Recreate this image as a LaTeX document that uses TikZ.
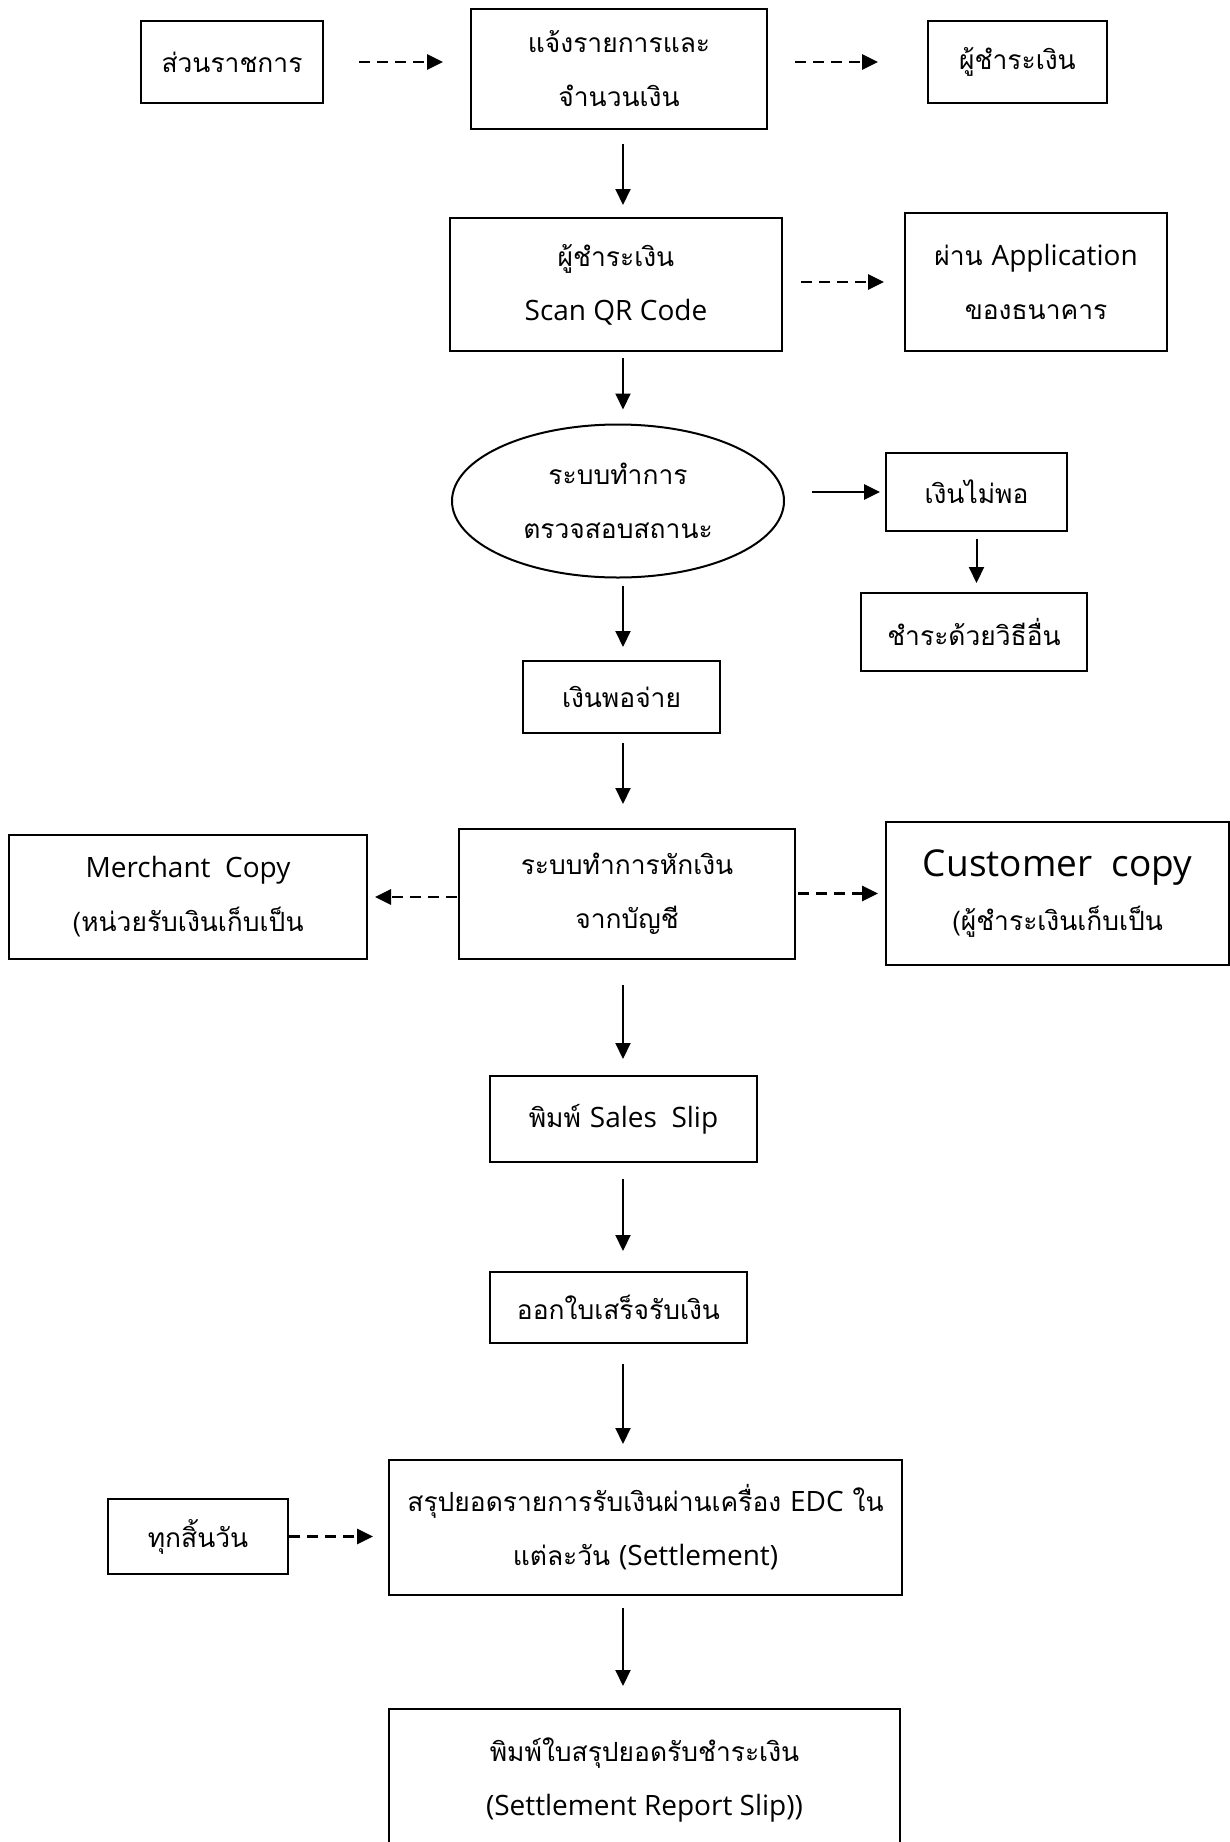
\documentclass[tikz,border=0pt]{standalone}
\usepackage{fontspec}
\setmainfont[Script=Thai]{Loma}
\newfontfamily\latinfont{Open Sans}
\newcommand{\en}[1]{{\latinfont\fontsize{14}{27}\selectfont #1}}
\usetikzlibrary{arrows.meta,shapes.geometric}

\begin{document}
\begin{tikzpicture}[x=0.5pt,y=-0.5pt,
		box/.style={draw,line width=1pt,align=center,inner sep=0pt,font=\fontsize{13.2}{27}\selectfont},
		flow/.style={line width=1pt,-{Triangle[length=8pt,width=7.5pt]}},
		link/.style={flow,line width=1.4pt,dash pattern=on 5.5pt off 3.5pt}]
		\useasboundingbox (0,0) rectangle (1230,1842);

		% Top row
		\node[box,minimum width=91pt,minimum height=41pt] (gov) at (232,62) {ส่วนราชการ};
		\node[box,minimum width=148pt,minimum height=60pt] (notify) at (619,69) {แจ้งรายการและ\\จำนวนเงิน};
		\node[box,minimum width=89.5pt,minimum height=41pt] (payer) at (1017.5,62) {ผู้ชำระเงิน};

		% Scan and check
		\node[box,minimum width=166pt,minimum height=66.5pt] (scan) at (616,284.5) {ผู้ชำระเงิน\\\en{Scan QR Code}};
		\node[box,minimum width=131pt,minimum height=69pt] (app) at (1036,282) {ผ่าน \en{Application}\\ของธนาคาร};
		\node[box,ellipse,minimum width=166pt,minimum height=76.5pt] (check) at (618,501) {ระบบทำการ\\ตรวจสอบสถานะ};
		\node[box,minimum width=90.5pt,minimum height=39pt] (short) at (976.5,492) {เงินไม่พอ};
		\node[box,minimum width=113pt,minimum height=39pt] (other) at (974,632) {ชำระด้วยวิธีอื่น};
		\node[box,minimum width=98.5pt,minimum height=36pt] (enough) at (621.5,697) {เงินพอจ่าย};

		% Deduct and copies
		\node[box,minimum width=168pt,minimum height=65pt] (deduct) at (627,894) {ระบบทำการหักเงิน\\จากบัญชี};
		\node[box,minimum width=179pt,minimum height=62pt] (merchant) at (188,897) {\en{Merchant\ \ Copy}\\(หน่วยรับเงินเก็บเป็น};
		\node[box,minimum width=171.5pt,minimum height=71.5pt] (customer) at (1057.5,893.5) {{\latinfont\fontsize{18.5}{27}\selectfont Customer\ \ copy}\\(ผู้ชำระเงินเก็บเป็น};

		% Slips and settlement
		\node[box,minimum width=133.5pt,minimum height=43pt] (slip) at (623.5,1119) {พิมพ์ \en{Sales\ \ Slip}};
		\node[box,minimum width=128.5pt,minimum height=35.5pt] (receipt) at (618.5,1307.5) {ออกใบเสร็จรับเงิน};
		\node[box,minimum width=256.5pt,minimum height=67.5pt] (settle) at (645.5,1527.5) {สรุปยอดรายการรับเงินผ่านเครื่อง \en{EDC} ใน\\แต่ละวัน \en{(Settlement)}};
		\node[box,minimum width=90pt,minimum height=37.5pt] (endday) at (198,1536.5) {ทุกสิ้นวัน};
		\node[box,minimum width=255.5pt,minimum height=70.5pt] (report) at (644.5,1779.5) {พิมพ์ใบสรุปยอดรับชำระเงิน\\\en{(Settlement Report Slip))}};

		% Main flow
		\coordinate (axis) at (623,0);
		\draw[flow,shorten <=7pt,shorten >=6pt] (notify.south -| axis) -- (scan.north -| axis);
		\draw[flow,shorten <=3pt,shorten >=7pt] (scan.south -| axis) -- (check.north -| axis);
		\draw[flow,shorten <=3.5pt,shorten >=6.5pt] (check.south -| axis) -- (enough.north -| axis);
		\draw[flow,shorten <=4.5pt,shorten >=12pt] (enough.south -| axis) -- (deduct.north -| axis);
		\draw[flow,shorten <=12.5pt,shorten >=8pt] (deduct.south -| axis) -- (slip.north -| axis);
		\draw[flow,shorten <=8pt,shorten >=10pt] (slip.south -| axis) -- (receipt.north -| axis);
		\draw[flow,shorten <=10pt,shorten >=7.5pt] (receipt.south -| axis) -- (settle.north -| axis);
		\draw[flow,shorten <=6pt,shorten >=11pt] (settle.south -| axis) -- (report.north -| axis);

		% Side links
		\draw[link,shorten <=17.5pt,shorten >=13.5pt] (gov.east) -- (gov.east -| notify.west);
		\draw[link,shorten <=13.5pt,shorten >=24.5pt] (payer.west -| notify.east) -- (payer.west);
		\draw[link,shorten <=9pt,shorten >=10pt] (app.west -| scan.east) -- (app.west);
		\draw[flow,line width=1.4pt,shorten <=13.5pt,shorten >=2.5pt] (short.west -| check.east) -- (short.west);
		\draw[flow,shorten <=3.5pt,shorten >=4.5pt] (short.south) -- (short.south |- other.north);
		\draw[link,shorten <=0.5pt,shorten >=3.5pt] (merchant.east -| deduct.west) -- (merchant.east);
		\draw[link,shorten <=1pt,shorten >=3.5pt] (customer.west -| deduct.east) -- (customer.west);
		\draw[link,shorten >=7.5pt] (endday.east) -- (endday.east -| settle.west);
	\end{tikzpicture}
\end{document}
